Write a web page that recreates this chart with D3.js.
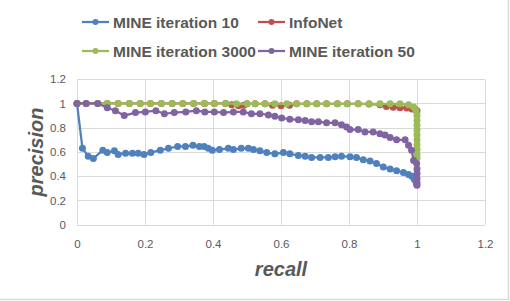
<!DOCTYPE html>
<html>
<head>
<meta charset="utf-8">
<script src="https://cdn.jsdelivr.net/npm/d3@7"></script>
<style>
  body { margin: 0; background: #fff; }
  svg { display: block; font-family: "Liberation Sans", Arial, sans-serif; }
</style>
</head>
<body>
<svg id="chart"></svg>
<script>
// values: [recall, precision]
var mine10 = [
  [0, 1.0], [0.016, 0.63], [0.033, 0.565], [0.048, 0.545], [0.076, 0.615], [0.089, 0.595],
  [0.11, 0.61], [0.121, 0.58], [0.143, 0.59], [0.163, 0.59], [0.18, 0.59], [0.197, 0.58],
  [0.217, 0.595], [0.245, 0.615], [0.269, 0.63], [0.296, 0.645], [0.319, 0.645], [0.341, 0.655],
  [0.36, 0.645], [0.374, 0.645], [0.386, 0.63], [0.398, 0.615], [0.419, 0.62], [0.445, 0.63],
  [0.46, 0.62], [0.483, 0.63], [0.504, 0.63], [0.519, 0.62], [0.538, 0.61], [0.558, 0.595],
  [0.582, 0.585], [0.607, 0.595], [0.626, 0.585], [0.651, 0.57], [0.671, 0.565], [0.69, 0.555],
  [0.715, 0.555], [0.739, 0.555], [0.759, 0.56], [0.778, 0.565], [0.803, 0.56], [0.822, 0.555],
  [0.842, 0.535], [0.862, 0.525], [0.881, 0.505], [0.901, 0.475], [0.921, 0.46], [0.94, 0.445],
  [0.96, 0.43], [0.975, 0.415], [0.985, 0.4], [0.992, 0.375], [0.997, 0.355], [0.999, 0.335]
];
var infoNet = [
  [0, 1.0], [0.027, 1.0], [0.061, 1.0], [0.089, 1.0], [0.121, 1.0], [0.154, 1.0], [0.186, 1.0],
  [0.216, 1.0], [0.248, 1.0], [0.28, 1.0], [0.311, 1.0], [0.343, 1.0], [0.375, 1.0], [0.404, 1.0],
  [0.437, 1.0], [0.455, 0.99], [0.475, 0.982], [0.49, 0.985], [0.5, 0.997], [0.524, 0.997],
  [0.553, 0.997], [0.575, 0.985], [0.6, 0.982], [0.625, 0.985], [0.646, 0.997], [0.676, 0.997],
  [0.705, 0.997], [0.734, 0.997], [0.766, 0.997], [0.795, 0.997], [0.827, 0.997], [0.859, 0.995],
  [0.891, 0.99], [0.91, 0.975], [0.93, 0.968], [0.95, 0.965], [0.97, 0.962], [0.985, 0.955],
  [0.995, 0.95], [1.0, 0.94]
];
var mine3000 = [
  [0, 1.0], [0.027, 1.0], [0.061, 1.0], [0.089, 1.0], [0.121, 1.0], [0.154, 1.0], [0.186, 1.0],
  [0.216, 1.0], [0.248, 1.0], [0.28, 1.0], [0.311, 1.0], [0.343, 1.0], [0.375, 1.0], [0.404, 1.0],
  [0.437, 1.0], [0.469, 0.997], [0.5, 0.997], [0.524, 0.997], [0.553, 0.997], [0.582, 0.997],
  [0.617, 0.997], [0.646, 0.997], [0.676, 0.997], [0.705, 0.997], [0.734, 0.997], [0.766, 0.997],
  [0.795, 0.997], [0.827, 0.997], [0.859, 0.997], [0.891, 0.997], [0.921, 0.997], [0.95, 0.997],
  [0.975, 0.99], [0.99, 0.97], [0.997, 0.94], [1.0, 0.9], [1.0, 0.86], [1.0, 0.82], [1.0, 0.78],
  [1.0, 0.74], [1.0, 0.7], [1.0, 0.66], [1.0, 0.62], [1.0, 0.58], [1.0, 0.55]
];
var mine50 = [
  [0, 1.0], [0.027, 1.0], [0.061, 1.0], [0.089, 0.965], [0.113, 0.94], [0.139, 0.9],
  [0.172, 0.925], [0.201, 0.93], [0.232, 0.94], [0.257, 0.915], [0.286, 0.925], [0.32, 0.93],
  [0.351, 0.94], [0.376, 0.93], [0.404, 0.93], [0.431, 0.925], [0.46, 0.93], [0.489, 0.93],
  [0.513, 0.915], [0.538, 0.915], [0.563, 0.905], [0.582, 0.895], [0.602, 0.88], [0.626, 0.87],
  [0.651, 0.865], [0.671, 0.86], [0.69, 0.85], [0.71, 0.85], [0.734, 0.84], [0.759, 0.84],
  [0.778, 0.825], [0.793, 0.805], [0.803, 0.785], [0.827, 0.785], [0.847, 0.765], [0.871, 0.765],
  [0.891, 0.75], [0.906, 0.74], [0.921, 0.72], [0.94, 0.7], [0.965, 0.7], [0.975, 0.655],
  [0.984, 0.615], [0.99, 0.53], [0.999, 0.505], [1.0, 0.46], [1.0, 0.42], [1.0, 0.38],
  [1.0, 0.345], [1.0, 0.325]
];

var seriesNames = ["MINE iteration 10", "InfoNet", "MINE iteration 3000", "MINE iteration 50"];
var seriesColors = ["#4F81BD", "#C0504D", "#9BBB59", "#8064A2"];
var xTicks = [0, 0.2, 0.4, 0.6, 0.8, 1, 1.2];
var yTicks = [0, 0.2, 0.4, 0.6, 0.8, 1, 1.2];

var width = 510, height = 301;
var svg = d3.select("#chart").attr("width", width).attr("height", height);

svg.append("rect").attr("width", width).attr("height", height).attr("fill", "#fff");
// outer chart border (only right / bottom edges show in the crop)
svg.append("rect")
  .attr("x", -1).attr("y", -1)
  .attr("width", 509.5).attr("height", 300.5)
  .attr("fill", "none").attr("stroke", "#D9D9D9").attr("stroke-width", 1.5);

var x = d3.scaleLinear().domain([0, 1.2]).range([77, 485]);
var y = d3.scaleLinear().domain([0, 1.2]).range([224.7, 79.2]);

// gridlines
svg.append("g").selectAll("line").data(xTicks).enter().append("line")
  .attr("x1", function(d) { return Math.round(x(d)) + 0.5; })
  .attr("x2", function(d) { return Math.round(x(d)) + 0.5; })
  .attr("y1", y(1.2)).attr("y2", y(0))
  .attr("stroke", "#D9D9D9").attr("stroke-width", 1);
svg.append("g").selectAll("line").data(yTicks).enter().append("line")
  .attr("y1", function(d) { return Math.round(y(d)) + 0.5; })
  .attr("y2", function(d) { return Math.round(y(d)) + 0.5; })
  .attr("x1", x(0)).attr("x2", x(1.2))
  .attr("stroke", "#D9D9D9").attr("stroke-width", 1);

// axes (labels only, Excel style)
var fmt = function(d) { return d3.format("")(+d.toFixed(1)); };
var xAxis = svg.append("g")
  .attr("transform", "translate(0," + y(0) + ")")
  .call(d3.axisBottom(x).tickValues(xTicks).tickSize(0).tickPadding(15).tickFormat(fmt));
var yAxis = svg.append("g")
  .attr("transform", "translate(" + x(0) + ",0)")
  .call(d3.axisLeft(y).tickValues(yTicks).tickSize(0).tickPadding(11).tickFormat(fmt));
[xAxis, yAxis].forEach(function(a) {
  a.select(".domain").remove();
  a.selectAll("text")
    .attr("fill", "#595959")
    .style("font-size", "11.5px")
    .style("font-family", "'Liberation Sans', Arial, sans-serif");
});

// series
var allData = [mine10, infoNet, mine3000, mine50];
var line = d3.line().x(function(d) { return x(d[0]); }).y(function(d) { return y(d[1]); });
allData.forEach(function(data, i) {
  var g = svg.append("g");
  g.append("path")
    .datum(data)
    .attr("d", line)
    .attr("fill", "none")
    .attr("stroke", seriesColors[i])
    .attr("stroke-width", 2.25)
    .attr("stroke-linejoin", "round");
  g.selectAll("circle").data(data).enter().append("circle")
    .attr("cx", function(d) { return x(d[0]); })
    .attr("cy", function(d) { return y(d[1]); })
    .attr("r", 3.5)
    .attr("fill", seriesColors[i]);
});

// axis titles
svg.append("text")
  .attr("x", 281).attr("y", 276)
  .attr("text-anchor", "middle")
  .attr("fill", "#595959")
  .style("font-size", "20px").style("font-weight", "bold").style("font-style", "italic")
  .text("recall");
svg.append("text")
  .attr("transform", "translate(43,152) rotate(-90)")
  .attr("text-anchor", "middle")
  .attr("fill", "#595959")
  .style("font-size", "20px").style("font-weight", "bold").style("font-style", "italic")
  .text("precision");

// legend
var legendPos = [[82, 22], [258, 22], [82, 51], [258, 51]];
seriesNames.forEach(function(name, i) {
  var lg = svg.append("g").attr("transform", "translate(" + legendPos[i][0] + "," + legendPos[i][1] + ")");
  lg.append("line").attr("x1", 0).attr("x2", 27).attr("y1", 0).attr("y2", 0)
    .attr("stroke", seriesColors[i]).attr("stroke-width", 2.25);
  lg.append("circle").attr("cx", 13.5).attr("cy", 0).attr("r", 3).attr("fill", seriesColors[i]);
  lg.append("text").attr("x", 31).attr("y", 5.5)
    .attr("fill", "#595959")
    .style("font-size", "15.5px").style("font-weight", "bold")
    .text(name);
});
</script>
</body>
</html>
